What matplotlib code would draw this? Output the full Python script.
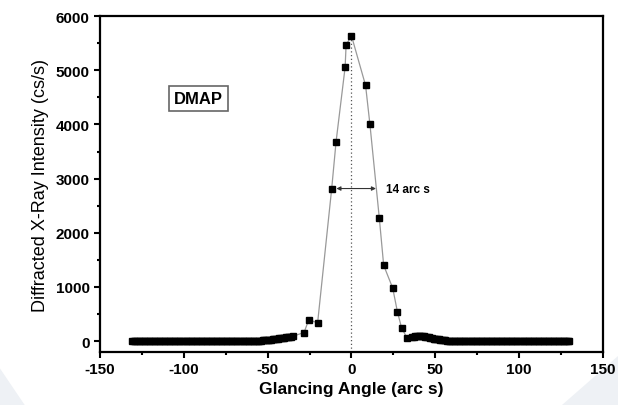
import numpy as np
import matplotlib
matplotlib.use("Agg")
import matplotlib.pyplot as plt
from matplotlib.patches import Polygon
from matplotlib.ticker import MultipleLocator

plt.rcParams['font.family'] = ['Liberation Sans', 'DejaVu Sans']
plt.rcParams['axes.unicode_minus'] = False

# rocking curve: tails sampled every 1 arc s, sparse points across the peak
left_tail_x = list(range(-131, -34))
left_tail_y = [2, 2, 2, 2, 2, 2, 2, 2, 2, 2,
               2, 2, 2, 2, 2, 2, 2, 2, 2, 2,
               2, 2, 2, 2, 2, 2, 2, 2, 2, 2,
               2, 2, 2, 2, 2, 2, 2, 2, 2, 2,
               2, 2, 2, 2, 2, 2, 2, 2, 2, 2,
               2, 2, 2, 2, 2, 2, 2, 2, 2, 2,
               2, 2, 2, 2, 2, 2,
               3, 3, 3, 4, 4, 5, 5, 6, 7, 8,
               9, 11, 13, 15, 18, 21, 24, 28, 32, 36,
               41, 46, 51, 56, 61, 66, 71, 76, 80, 85,
               90]

peak_x = [-28.3, -25.5, -20.2, -11.8, -9.2, -3.8, -3.2, 0.0,
          8.4, 11.0, 16.6, 19.2, 24.6, 27.4, 29.9, 33.1]
peak_y = [160, 393, 340, 2817, 3680, 5055, 5470, 5635,
          4720, 4000, 2270, 1400, 978, 541, 243, 61]

right_tail_x = list(range(36, 131))
right_tail_y = [78, 84, 90, 94, 96, 96, 94, 90, 84, 77,
                70, 63, 56, 49, 42, 36, 31, 26, 22, 18,
                15, 12, 10, 8, 6, 5, 4, 4, 3, 3,
                2, 2, 2, 2, 2, 2, 2, 2, 2, 2,
                2, 2, 2, 2, 2, 2, 2, 2, 2, 2,
                2, 2, 2, 2, 2, 2, 2, 2, 2, 2,
                2, 2, 2, 2, 2, 2, 2, 2, 2, 2,
                2, 2, 2, 2, 2, 2, 2, 2, 2, 2,
                2, 2, 2, 2, 2, 2, 2, 2, 2, 2,
                2, 2, 2, 2, 2]

angle = np.array(left_tail_x + peak_x + right_tail_x)
intensity = np.array(left_tail_y + peak_y + right_tail_y)

half_max = 2817
fwhm_left, fwhm_right = -9.0, 14.6

fig = plt.figure(figsize=(6.18, 4.06), dpi=100)

# faint background shapes in the lower corners
fig.patches.append(Polygon([[0, 0], [0, 0.09], [0.04, 0.0]], closed=True,
                           transform=fig.transFigure, fc='#eef1f5', ec='none', zorder=-5))
fig.patches.append(Polygon([[0.91, 0], [1.0, 0], [1.0, 0.12]], closed=True,
                           transform=fig.transFigure, fc='#eef1f5', ec='none', zorder=-5))

ax = fig.add_axes([0.1618, 0.1305, 0.8139, 0.8275])
ax.set_zorder(1)
ax.patch.set_alpha(0)

ax.plot([0, 0], [-200, intensity.max()], ls=(0, (1, 2)), color='#555555', lw=0.9, zorder=1)
ax.plot(angle, intensity, color='#999999', lw=0.9, zorder=2)
ax.plot(angle, intensity, ls='none', marker='s', ms=5, color='black', zorder=3)

ax.annotate('', xy=(fwhm_left, half_max), xytext=(fwhm_right, half_max),
            arrowprops=dict(arrowstyle='<|-|>', color='#333333', lw=0.8,
                            mutation_scale=6, shrinkA=0, shrinkB=0))
ax.text(fwhm_right + 6, half_max, '14 arc s', fontsize=8.5, fontweight='bold',
        va='center', ha='left')

ax.text(-91.5, 4480, 'DMAP', fontsize=12, fontweight='bold', ha='center', va='center',
        bbox=dict(boxstyle='square,pad=0.3', fc='white', ec='#666666', lw=1.2))

ax.set_xlim(-150, 150)
ax.set_ylim(-200, 6000)
ax.xaxis.set_major_locator(MultipleLocator(50))
ax.xaxis.set_minor_locator(MultipleLocator(25))
ax.yaxis.set_major_locator(MultipleLocator(1000))
ax.yaxis.set_minor_locator(MultipleLocator(500))
ax.tick_params(which='major', direction='out', length=4, width=1.5, labelsize=11)
ax.tick_params(which='minor', direction='out', length=2.5, width=1.5)
for lab in ax.get_xticklabels() + ax.get_yticklabels():
    lab.set_fontweight('bold')
for sp in ax.spines.values():
    sp.set_linewidth(1.6)

ax.set_xlabel('Glancing Angle (arc s)', fontsize=12.5, fontweight='bold', labelpad=3)
ax.set_ylabel('Diffracted X-Ray Intensity (cs/s)', fontsize=13,
              family=['Liberation Sans Narrow', 'Liberation Sans'], labelpad=5)

fig.savefig('out.png', dpi=100)
